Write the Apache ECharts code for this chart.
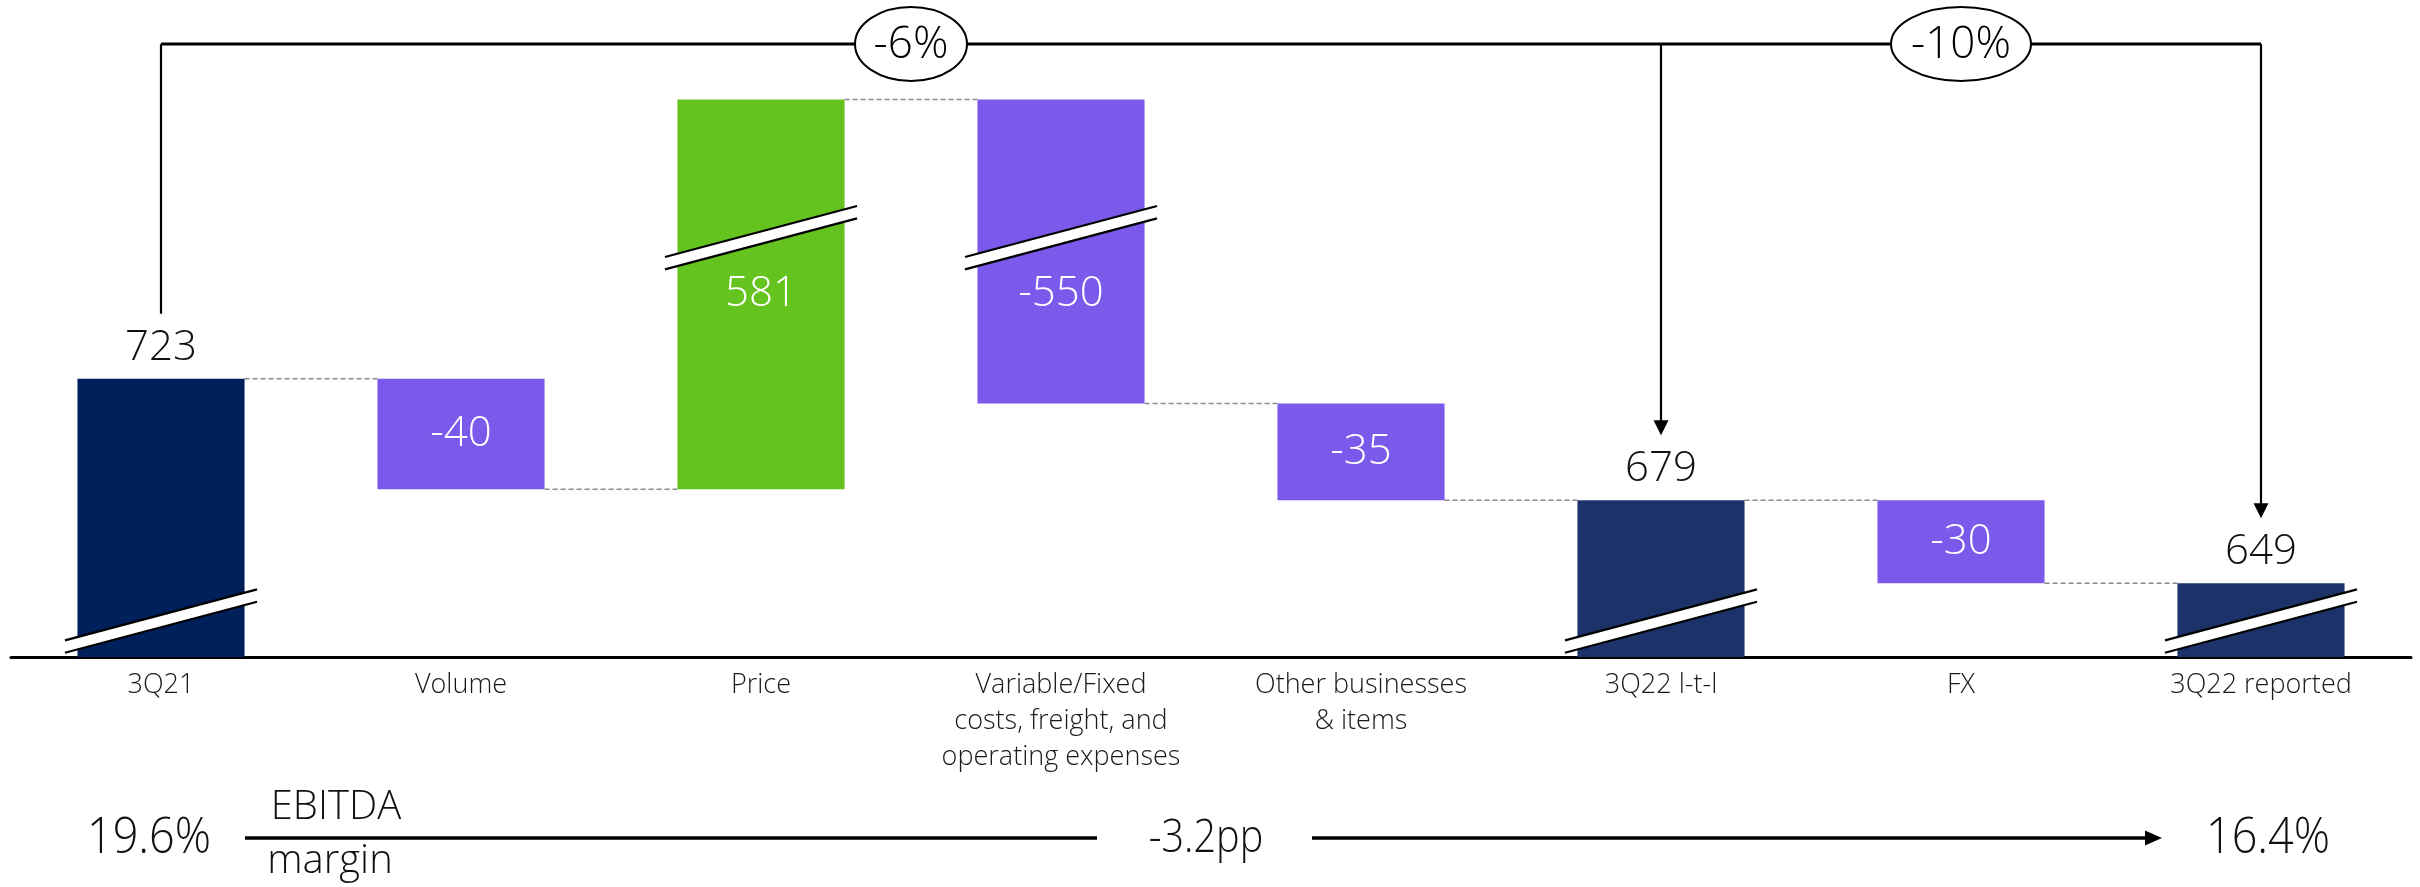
<!DOCTYPE html>
<html>
<head>
<meta charset="utf-8">
<title>EBITDA bridge 3Q21 – 3Q22</title>
<script src="https://cdn.jsdelivr.net/npm/echarts@6/dist/echarts.min.js"></script>
<style>
  html, body { margin: 0; padding: 0; background: #ffffff; }
  #chart { width: 2420px; height: 887px; }
</style>
</head>
<body>
<div id="chart"></div>
<script>
// ---- data ----------------------------------------------------------------
const categories = [
  '3Q21',
  'Volume',
  'Price',
  'Variable/Fixed\ncosts, freight, and\noperating expenses',
  'Other businesses\n& items',
  '3Q22 l-t-l',
  'FX',
  '3Q22 reported'
];
// totals are absolute EBITDA, the rest are changes
const values = [723, -40, 581, -550, -35, 679, -30, 649];
const totalFlags = [true, false, false, false, false, true, false, true];

// change vs 3Q21 shown on the bracket: [to 3Q22 l-t-l, to 3Q22 reported]
const changeLabels = ['-6%', '-10%'];

// EBITDA margin row
const marginTitle = ['EBITDA', 'margin'];
const marginStart = '19.6%';
const marginChange = '-3.2pp';
const marginEnd = '16.4%';

// value ranges squeezed out of the value axis (drawn as slashes on the bars)
const axisBreaks = [
  { start: 13, end: 635.3 },
  { start: 774, end: 1214 }
];

// ---- derived waterfall geometry (values only) -----------------------------
let running = 0;
const segments = values.map(function (v, i) {
  let low, high, end;
  if (totalFlags[i]) {
    low = 0; high = v; end = v;
  } else {
    end = running + v;
    low = Math.min(running, end);
    high = Math.max(running, end);
  }
  running = end;
  return [i, low, high, end];
});
const connectors = segments.slice(0, -1).map(function (s) { return [s[0], s[3]]; });

// ---- styling --------------------------------------------------------------
const FONT = "'Open Sans', 'Noto Sans', 'Liberation Sans', sans-serif";
const BAR_RATIO = 0.557;

function barColor(i) {
  if (i === 0) return '#00205B';
  if (totalFlags[i]) return '#1B3369';
  return values[i] >= 0 ? '#64C31E' : '#7B5AEB';
}

function textEl(x, y, text, size, color, scaleX) {
  return {
    type: 'text',
    x: x, y: y,
    scaleX: scaleX || 1,
    style: {
      x: 0, y: 0,
      text: text,
      fill: color || '#111111',
      fontSize: size,
      fontFamily: FONT,
      fontWeight: 300,
      align: 'center',
      verticalAlign: 'middle'
    }
  };
}

// double slash marking an axis break across a bar
function slashEl(cx, cy, w) {
  const hw = w / 2 + 12.5;
  const rise = hw * 0.2656;
  const t = 6.2;
  const xl = cx - hw, xr = cx + hw;
  return {
    type: 'group',
    children: [
      { type: 'polygon',
        shape: { points: [[xl, cy + rise - t], [xr, cy - rise - t], [xr, cy - rise + t], [xl, cy + rise + t]] },
        style: { fill: '#ffffff' } },
      { type: 'line', shape: { x1: xl, y1: cy + rise - t, x2: xr, y2: cy - rise - t },
        style: { stroke: '#000000', lineWidth: 2.2 } },
      { type: 'line', shape: { x1: xl, y1: cy + rise + t, x2: xr, y2: cy - rise + t },
        style: { stroke: '#000000', lineWidth: 2.2 } }
    ]
  };
}

function arrowHead(x, yTip, size) {
  return {
    type: 'polygon',
    shape: { points: [[x - size / 2, yTip - size], [x + size / 2, yTip - size], [x, yTip]] },
    style: { fill: '#000000' }
  };
}

function renderBar(params, api) {
  const i = api.value(0);
  const low = api.value(1);
  const high = api.value(2);
  const pTop = api.coord([i, high]);
  const pBot = api.coord([i, low]);
  const w = api.size([1, 0])[0] * BAR_RATIO;
  const children = [{
    type: 'rect',
    shape: { x: pTop[0] - w / 2, y: pTop[1], width: w, height: pBot[1] - pTop[1] },
    style: { fill: barColor(i) }
  }];
  let upperBreakY = null;
  axisBreaks.forEach(function (b, k) {
    if (low < b.start && high > b.end) {
      const by = api.coord([i, b.start])[1];
      children.push(slashEl(pTop[0], by, w));
      if (k === 1) upperBreakY = by;
    }
  });
  const label = String(values[i]);
  if (totalFlags[i]) {
    children.push(textEl(pTop[0], pTop[1] - 31, label, 42, '#111111'));
  } else {
    const ly = upperBreakY !== null ? upperBreakY + 56 : (pTop[1] + pBot[1]) / 2;
    children.push(textEl(pTop[0], ly, label, 42, '#ffffff'));
  }
  return { type: 'group', children: children };
}

function renderConnector(params, api) {
  const i = api.value(0);
  const level = api.value(1);
  const p = api.coord([i, level]);
  const q = api.coord([i + 1, level]);
  const w = api.size([1, 0])[0] * BAR_RATIO;
  return {
    type: 'line',
    shape: { x1: p[0] + w / 2, y1: p[1], x2: q[0] - w / 2, y2: q[1] },
    style: { stroke: '#8a8a8a', lineWidth: 1.5, lineDash: [5, 3] }
  };
}

function renderAnnotations(params, api) {
  const last = categories.length - 1;
  const xA = api.coord([0, 0])[0];
  const xB = api.coord([5, 0])[0];
  const xC = api.coord([last, 0])[0];
  const yTop = 44;
  const yA = api.coord([0, values[0]])[1] - 65;
  const yB = api.coord([5, values[5]])[1] - 65;
  const yC = api.coord([last, values[last]])[1] - 65;
  const head = 15;
  const children = [
    { type: 'line', shape: { x1: xA, y1: yTop, x2: xC, y2: yTop }, style: { stroke: '#000', lineWidth: 3 } },
    { type: 'line', shape: { x1: xA, y1: yTop, x2: xA, y2: yA }, style: { stroke: '#000', lineWidth: 2.2 } },
    { type: 'line', shape: { x1: xB, y1: yTop, x2: xB, y2: yB - head + 1 }, style: { stroke: '#000', lineWidth: 2.2 } },
    { type: 'line', shape: { x1: xC, y1: yTop, x2: xC, y2: yC - head + 1 }, style: { stroke: '#000', lineWidth: 2.2 } },
    arrowHead(xB, yB, head),
    arrowHead(xC, yC, head)
  ];
  [[xA, xB, changeLabels[0]], [xB, xC, changeLabels[1]]].forEach(function (d) {
    const cx = (d[0] + d[1]) / 2;
    const rx = 14 * d[2].length + 14;
    children.push({
      type: 'ellipse',
      shape: { cx: cx, cy: yTop, rx: rx, ry: 37 },
      style: { fill: '#ffffff', stroke: '#000000', lineWidth: 2 }
    });
    children.push(textEl(cx, yTop + 1, d[2], 44, '#000000'));
  });

  // EBITDA margin row
  const yRow = 838;
  const xMid = (xA + xC) / 2;
  children.push(textEl(xA - 12, yRow + 1, marginStart, 50, '#111111', 0.9));
  children.push(textEl(xA + 175, 808, marginTitle[0], 40, '#111111'));
  children.push(textEl(xA + 169, 862, marginTitle[1], 40, '#111111'));
  children.push({ type: 'line', shape: { x1: xA + 84, y1: yRow, x2: xMid - 114, y2: yRow },
    style: { stroke: '#000', lineWidth: 3.5 } });
  children.push(textEl(xMid - 5, yRow + 1, marginChange, 46, '#111111', 0.86));
  children.push({ type: 'line', shape: { x1: xMid + 101, y1: yRow, x2: xC - 114, y2: yRow },
    style: { stroke: '#000', lineWidth: 3.5 } });
  children.push({ type: 'polygon',
    shape: { points: [[xC - 116, yRow - 7.5], [xC - 116, yRow + 7.5], [xC - 99, yRow]] },
    style: { fill: '#000000' } });
  children.push(textEl(xC + 7, yRow + 1, marginEnd, 50, '#111111', 0.9));
  return { type: 'group', children: children };
}

// ---- chart ----------------------------------------------------------------
const chart = echarts.init(document.getElementById('chart'), null, { renderer: 'canvas' });
chart.setOption({
  animation: false,
  backgroundColor: '#ffffff',
  grid: { left: 11, right: 9, top: 0, bottom: 230, containLabel: false },
  xAxis: {
    type: 'category',
    data: categories,
    boundaryGap: true,
    axisLine: { show: true, lineStyle: { color: '#000000', width: 3 } },
    axisTick: { show: false },
    axisLabel: {
      interval: 0,
      margin: 10,
      color: '#1a1a1a',
      fontSize: 27,
      lineHeight: 36,
      fontFamily: FONT,
      fontWeight: 300
    },
    splitLine: { show: false }
  },
  yAxis: {
    type: 'value',
    show: false,
    min: 0,
    max: 1300,
    breaks: axisBreaks.map(function (b) { return { start: b.start, end: b.end, gap: 0 }; }),
    breakArea: { show: false },
    splitLine: { show: false }
  },
  series: [
    {
      type: 'custom',
      name: 'bars',
      coordinateSystem: 'cartesian2d',
      clip: false,
      silent: true,
      encode: { x: 0, y: [1, 2] },
      data: segments,
      renderItem: renderBar,
      z: 3
    },
    {
      type: 'custom',
      name: 'connectors',
      coordinateSystem: 'cartesian2d',
      clip: false,
      silent: true,
      encode: { x: 0, y: 1 },
      data: connectors,
      renderItem: renderConnector,
      z: 2
    },
    {
      type: 'custom',
      name: 'annotations',
      coordinateSystem: 'cartesian2d',
      clip: false,
      silent: true,
      encode: { x: 0, y: 1 },
      data: [[0, 0]],
      renderItem: renderAnnotations,
      z: 4
    }
  ]
});
</script>
</body>
</html>
